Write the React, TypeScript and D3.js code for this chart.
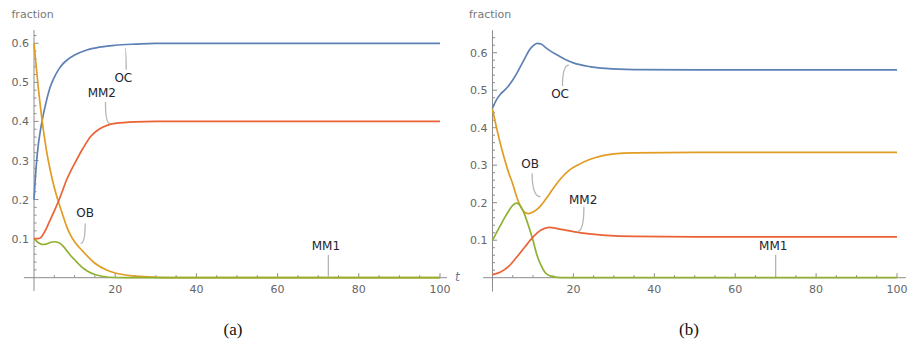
import React, { useEffect } from 'react';
import * as d3 from 'd3';

// ---------- data ----------
const SERIES = ['OC', 'OB', 'MM1', 'MM2'];
const COLORS = ['#5E81B5', '#E19C24', '#8FB032', '#EB6235'];
const X_TICKS = [20, 40, 60, 80, 100];
const Y_TICKS = [0.1, 0.2, 0.3, 0.4, 0.5, 0.6];
const Y_TICK_LABELS = ['0.1', '0.2', '0.3', '0.4', '0.5', '0.6'];

// panel (a)
const tOC_a = [0, 0.3, 0.6, 1, 1.5, 2, 3, 4, 5, 6, 7, 8, 10, 13, 16, 20, 25, 30, 40, 100];
const vOC_a = [0.2, 0.25, 0.293, 0.335, 0.372, 0.402, 0.45, 0.488, 0.513, 0.532, 0.546, 0.556, 0.57, 0.583, 0.59, 0.595, 0.598, 0.6, 0.6, 0.6];
const tOB_a = [0, 1, 2, 3, 4, 5, 6, 7, 8, 9, 10, 12, 15, 18, 20, 25, 30, 35, 100];
const vOB_a = [0.6, 0.492, 0.402, 0.33, 0.275, 0.231, 0.195, 0.163, 0.132, 0.109, 0.092, 0.068, 0.037, 0.019, 0.012, 0.004, 0.001, 0, 0];
const tMM1_a = [0, 1, 2, 3, 4, 5, 6, 7, 8, 9, 10, 11, 12, 13, 15, 17, 20, 25, 100];
const vMM1_a = [0.1, 0.09, 0.085, 0.086, 0.09, 0.092, 0.09, 0.083, 0.07, 0.057, 0.046, 0.035, 0.025, 0.018, 0.008, 0.003, 0.0005, 0, 0];
const tMM2_a = [0, 1, 1.8, 3, 4, 5, 6, 7, 8, 9, 10, 12, 14, 16, 18, 20, 25, 30, 100];
const vMM2_a = [0.1, 0.1, 0.104, 0.125, 0.148, 0.171, 0.195, 0.222, 0.25, 0.272, 0.292, 0.33, 0.362, 0.38, 0.39, 0.395, 0.399, 0.4, 0.4];

// panel (b)
const tOC_b = [0, 1, 2, 3, 4, 5, 6, 7, 8, 9, 10, 11, 12, 13, 14, 16, 18, 20, 24, 28, 35, 50, 100];
const vOC_b = [0.452, 0.475, 0.49, 0.5, 0.512, 0.527, 0.545, 0.565, 0.585, 0.605, 0.618, 0.625, 0.623, 0.615, 0.607, 0.594, 0.582, 0.573, 0.563, 0.558, 0.555, 0.554, 0.554];
const tOB_b = [0, 1, 2, 3, 4, 5, 6, 7, 8, 9, 10, 11, 12, 13, 14, 15, 17, 19, 21, 24, 27, 30, 35, 50, 100];
const vOB_b = [0.45, 0.4, 0.355, 0.315, 0.28, 0.25, 0.215, 0.188, 0.174, 0.171, 0.175, 0.182, 0.193, 0.207, 0.222, 0.238, 0.266, 0.287, 0.3, 0.315, 0.325, 0.33, 0.333, 0.334, 0.334];
const tMM1_b = [0, 1, 2, 3, 4, 5, 6, 7, 8, 9, 10, 11, 12, 13, 14, 16, 18, 100];
const vMM1_b = [0.1, 0.12, 0.14, 0.16, 0.178, 0.193, 0.199, 0.19, 0.167, 0.135, 0.1, 0.06, 0.033, 0.014, 0.006, 0.001, 0, 0];
const tMM2_b = [0, 2, 4, 6, 8, 10, 12, 14, 16, 18, 20, 24, 28, 35, 50, 100];
const vMM2_b = [0.008, 0.015, 0.03, 0.055, 0.082, 0.108, 0.127, 0.134, 0.131, 0.127, 0.123, 0.117, 0.113, 0.11, 0.109, 0.109];

// callout labels: [name, text t, text v, label-end t, label-end v, curve t, curve v]
const LABELS_A: [string, number, number, number, number, number, number][] = [
  ['OC', 22.0, 0.513, 22.7, 0.532, 22.4, 0.587],
  ['MM2', 16.7, 0.473, 17.6, 0.45, 18.7, 0.395],
  ['OB', 12.6, 0.166, 12.6, 0.139, 11.5, 0.088],
  ['MM1', 71.9, 0.081, 72.5, 0.058, 72.5, 0.0025],
];
const LABELS_B: [string, number, number, number, number, number, number][] = [
  ['OC', 16.7, 0.492, 17.3, 0.511, 18.9, 0.567],
  ['OB', 9.3, 0.303, 9.8, 0.278, 11.9, 0.216],
  ['MM2', 22.4, 0.209, 22.6, 0.189, 21.0, 0.123],
  ['MM1', 69.4, 0.085, 70.0, 0.061, 70.0, 0.003],
];

const PANEL_A = {
  times: [tOC_a, tOB_a, tMM1_a, tMM2_a],
  values: [vOC_a, vOB_a, vMM1_a, vMM2_a],
  labels: LABELS_A,
};
const PANEL_B = {
  times: [tOC_b, tOB_b, tMM1_b, tMM2_b],
  values: [vOC_b, vOB_b, vMM1_b, vMM2_b],
  labels: LABELS_B,
};

const W = 914;
const H = 341;
const FONT = '"DejaVu Sans", sans-serif';

type PanelProps = {
  data: typeof PANEL_A;
  xr: [number, number];
  yr: [number, number];
  xAxisExt: [number, number];
  yAxisExt: [number, number];
  fracX: number;
  caption: string;
  captionX: number;
  showT: boolean;
};

function Panel({ data, xr, yr, xAxisExt, yAxisExt, fracX, caption, captionX, showT }: PanelProps) {
  const x = d3.scaleLinear().domain([0, 100]).range(xr);
  const y = d3.scaleLinear().domain([0, 0.6]).range(yr);
  const x0 = x(0);
  const y0 = y(0);
  const axisColor = '#8c8c8c';
  const tickColor = '#666';
  const line = d3
    .line<[number, number]>()
    .x((d) => x(d[0]))
    .y((d) => y(d[1]))
    .curve(d3.curveMonotoneX);

  const yMinor = d3.range(0.02, yAxisExt[1], 0.02).filter((v) => Math.abs((v * 10) % 1) > 0.01 && Math.abs((v * 10) % 1) < 0.99);
  const xMinor = d3.range(5, 101, 5).filter((v) => v % 20 !== 0);

  return (
    <g>
      <text x={fracX} y={18} fontFamily={FONT} fontSize={11} fill="#777">fraction</text>
      {/* axes */}
      <line x1={x(xAxisExt[0])} x2={x(xAxisExt[1])} y1={y0} y2={y0} stroke={axisColor} strokeWidth={1} />
      <line x1={x0} x2={x0} y1={y(yAxisExt[0])} y2={y(yAxisExt[1])} stroke={axisColor} strokeWidth={1} />
      {Y_TICKS.map((v, i) => (
        <g key={'yt' + i}>
          <line x1={x0} x2={x0 + 4.5} y1={y(v)} y2={y(v)} stroke={axisColor} />
          <text x={x0 - 5} y={y(v) + 4} textAnchor="end" fontFamily={FONT} fontSize={11} fill={tickColor}>
            {Y_TICK_LABELS[i]}
          </text>
        </g>
      ))}
      {yMinor.map((v, i) => (
        <line key={'ym' + i} x1={x0} x2={x0 + 2.5} y1={y(v)} y2={y(v)} stroke={axisColor} />
      ))}
      {X_TICKS.map((v, i) => (
        <g key={'xt' + i}>
          <line x1={x(v)} x2={x(v)} y1={y0} y2={y0 - 4.5} stroke={axisColor} />
          <text x={x(v)} y={y0 + 15.5} textAnchor="middle" fontFamily={FONT} fontSize={11} fill={tickColor}>
            {v}
          </text>
        </g>
      ))}
      {xMinor.map((v, i) => (
        <line key={'xm' + i} x1={x(v)} x2={x(v)} y1={y0} y2={y0 - 2.5} stroke={axisColor} />
      ))}
      {showT && (
        <text x={x(xAxisExt[1]) + 8} y={y0 + 3.5} fontFamily={FONT} fontSize={12} fontStyle="italic" fill="#6f7896">t</text>
      )}
      {/* curves */}
      {data.times.map((ts, i) => {
        const pts: [number, number][] = ts.map((t, j) => [t, data.values[i][j]]);
        return <path key={'c' + i} d={line(pts) || ''} fill="none" stroke={COLORS[i]} strokeWidth={1.7} />;
      })}
      {/* callouts */}
      {data.labels.map((l, i) => {
        const [name, tx, tv, sx, sv, ex, ev] = l;
        const p = `M${x(sx)},${y(sv)} Q${x(sx)},${y(ev)} ${x(ex)},${y(ev)}`;
        return (
          <g key={'l' + i}>
            <path d={p} fill="none" stroke="#b4b4b4" strokeWidth={1.3} />
            <text x={x(tx)} y={y(tv) + 4.3} textAnchor="middle" fontFamily={FONT} fontSize={12} fill="#23252f">
              {name}
            </text>
          </g>
        );
      })}
      <text x={captionX} y={335} textAnchor="middle" fontFamily='"Liberation Serif", "Times New Roman", serif' fontSize={17} fill="#111">
        {caption}
      </text>
    </g>
  );
}

export default function App() {
  useEffect(() => {
    document.body.style.margin = '0';
  }, []);
  return (
    <svg width={W} height={H} viewBox={`0 0 ${W} ${H}`} style={{ position: 'absolute', left: 0, top: 0, background: '#fff' }}>
      <rect x={0} y={0} width={W} height={H} fill="#fff" />
      <Panel
        data={PANEL_A}
        xr={[34, 440]}
        yr={[277.7, 43.3]}
        xAxisExt={[-2.5, 101.7]}
        yAxisExt={[-0.034, 0.634]}
        fracX={11.5}
        caption="(a)"
        captionX={233}
        showT={true}
      />
      <Panel
        data={PANEL_B}
        xr={[492.5, 897]}
        yr={[277.7, 52.7]}
        xAxisExt={[-2.3, 102.2]}
        yAxisExt={[-0.037, 0.66]}
        fracX={469}
        caption="(b)"
        captionX={689}
        showT={false}
      />
    </svg>
  );
}
